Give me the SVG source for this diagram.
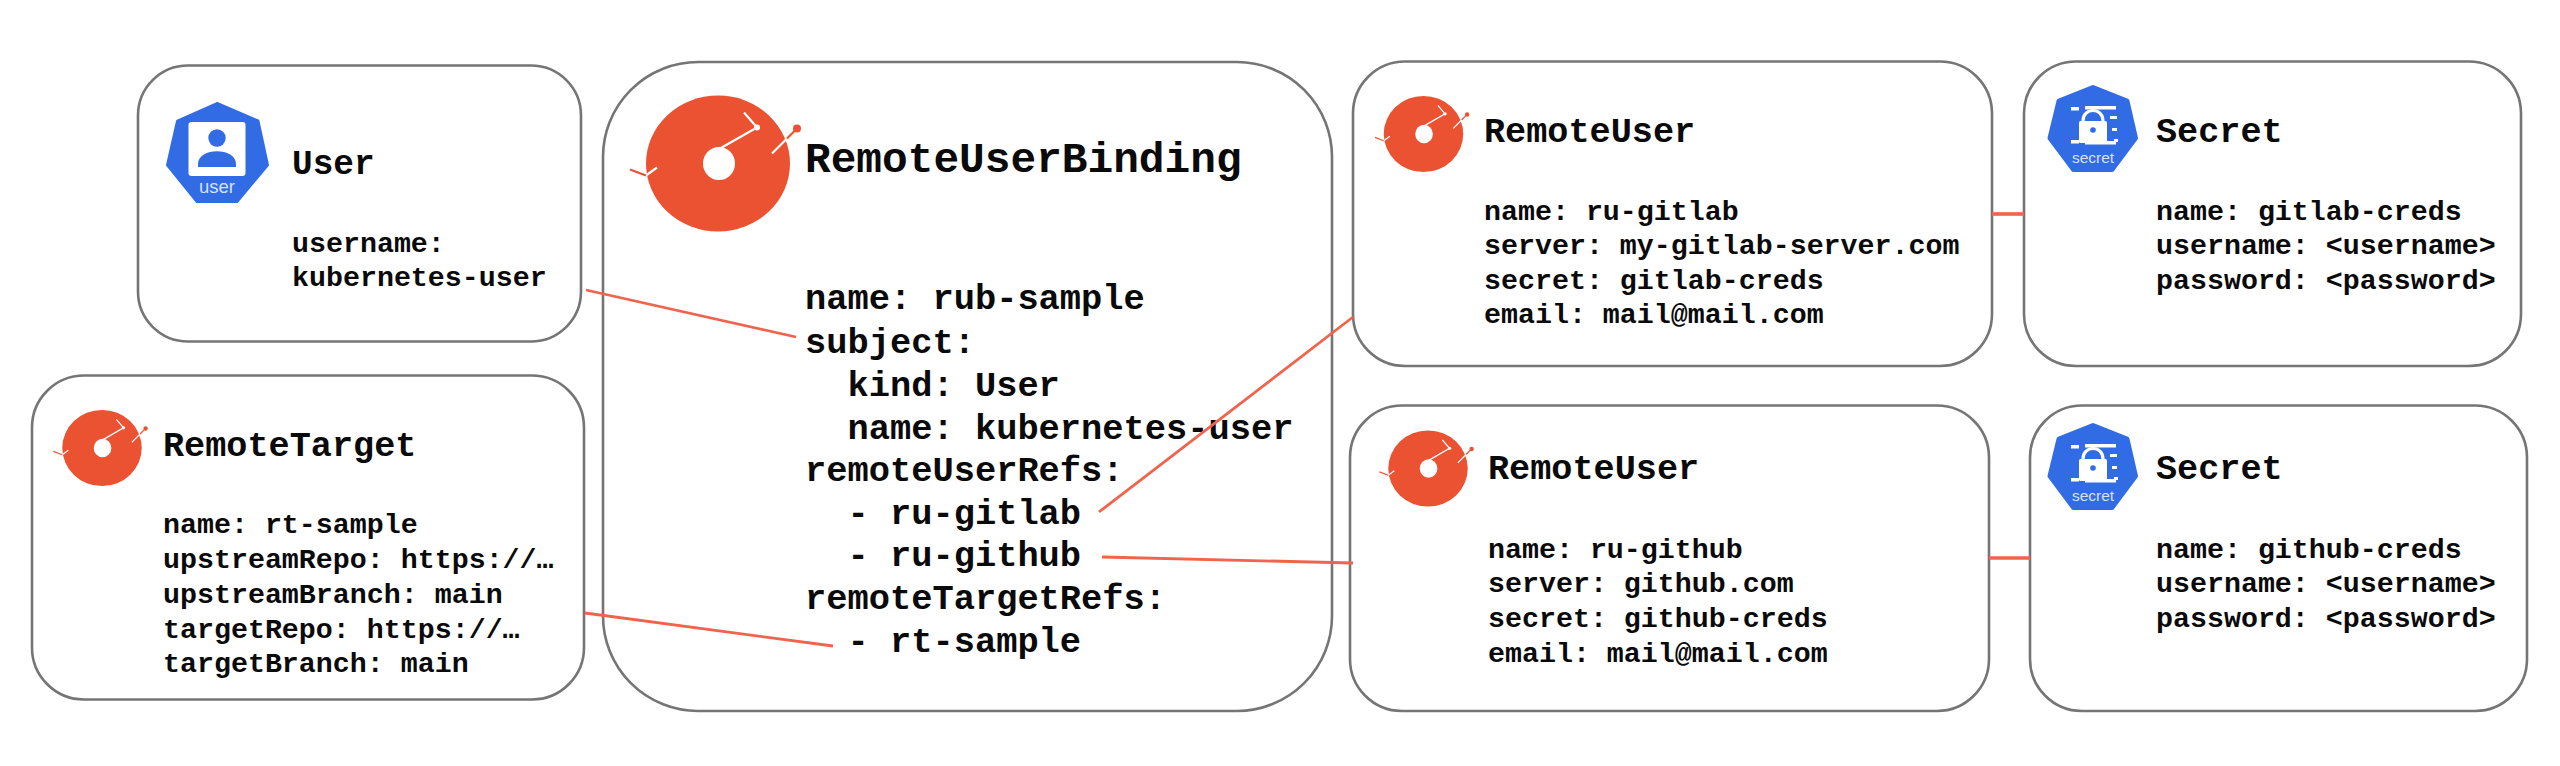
<svg xmlns="http://www.w3.org/2000/svg" xmlns:xlink="http://www.w3.org/1999/xlink" width="2560" height="766" viewBox="0 0 2560 766">
<style>
.box{fill:#fff;stroke:#757575;stroke-width:2.6}
.t{font-family:"Liberation Mono",monospace;font-weight:700;fill:#0a0a0a;white-space:pre}
.h{font-size:35.200px}
.b{font-size:28.3px}
.xl{font-size:42.800px}
.l{font-size:35.4px}
.lab{font-family:"Liberation Sans",Arial,sans-serif;fill:#d5e1fa;text-anchor:middle}
.c{stroke:#f0634c;stroke-width:2.8;fill:none}
.c2{stroke:#f0634c;stroke-width:3.6;fill:none}
</style>
<defs>
<g id="logo">
<ellipse cx="0" cy="0" rx="72" ry="68" fill="#ea5231"/>
<ellipse cx="1" cy="0" rx="16" ry="16.5" fill="#fff"/>
<path d="M2,-15 L39,-36 L26,-51" fill="none" stroke="#fff" stroke-width="2.2"/>
<circle cx="39" cy="-36" r="3" fill="#fff"/>
<path d="M54,-10 L69,-25" fill="none" stroke="#fff" stroke-width="2.2"/>
<path d="M69,-25 L79,-35" fill="none" stroke="#ea5231" stroke-width="2.2"/>
<circle cx="79" cy="-35" r="4" fill="#ea5231"/>
<path d="M-61,4 L-72,12" fill="none" stroke="#fff" stroke-width="2.2"/>
<path d="M-72,12 L-88,6" fill="none" stroke="#ea5231" stroke-width="2.2"/>
</g>
<g id="secret-icon">
<path d="M2093,87.500 L2127,101 L2135.500,138 L2112,169.500 L2073.500,169.500 L2050,138 L2059,101 Z" fill="#326ce5" stroke="#326ce5" stroke-width="5" stroke-linejoin="round"/>
<g fill="#fff">
<rect x="2071" y="107" width="8" height="3.500"/>
<rect x="2085" y="106" width="31" height="3.500"/>
<rect x="2110" y="116" width="7" height="3"/>
<rect x="2112" y="128" width="5" height="3"/>
<rect x="2114" y="139" width="4" height="3"/>
<rect x="2071" y="140" width="8" height="3.500"/>
<rect x="2085" y="141" width="31" height="3.500"/>
<rect x="2079" y="121" width="28" height="22" rx="1.500"/>
</g>
<path d="M2083,121 C2083,107 2103,107 2103,121" fill="none" stroke="#fff" stroke-width="3.200"/>
<circle cx="2093" cy="130" r="2.800" fill="#326ce5"/>
</g>
</defs>
<rect width="2560" height="766" fill="#fff"/>

<g id="node-user">
<rect class="box" x="138" y="65.500" width="443" height="276" rx="50"/>
<path d="M217,103.500 L258,121 L267.500,165 L237,201.500 L197,201.500 L167.500,165 L177.500,121 Z" fill="#326ce5" stroke="#326ce5" stroke-width="3" stroke-linejoin="round"/>
<rect x="188.500" y="122" width="57" height="54" rx="3" fill="#fff"/>
<circle cx="217" cy="138" r="8.700" fill="#326ce5"/>
<path d="M198,167 L198,164 C198,147 236,147 236,164 L236,167 Z" fill="#326ce5"/>
<text class="lab" x="217" y="193" font-size="18.500">user</text>
<text class="t h" x="292" y="174" style="font-size:34.4px">User</text>
<text class="t b" x="292" y="252">username:</text>
<text class="t b" x="292" y="286">kubernetes-user</text>
</g>

<g id="node-remotetarget">
<rect class="box" x="32" y="375.500" width="552" height="324" rx="52"/>
<use href="#logo" xlink:href="#logo" transform="translate(102 448) scale(.552 .56)"/>
<text class="t h" x="163" y="456">RemoteTarget</text>
<text class="t b" x="163" y="533">name: rt-sample</text>
<text class="t b" x="163" y="568">upstreamRepo: https://…</text>
<text class="t b" x="163" y="603">upstreamBranch: main</text>
<text class="t b" x="163" y="638">targetRepo: https://…</text>
<text class="t b" x="163" y="672">targetBranch: main</text>
</g>

<g id="node-remoteuserbinding">
<rect class="box" x="603" y="62" width="729" height="649" rx="95"/>
<use href="#logo" xlink:href="#logo" transform="translate(718 163.500)"/>
<text class="t xl" x="805" y="172">RemoteUserBinding</text>
<text class="t l" x="805" y="309">name: rub-sample</text>
<text class="t l" x="805" y="353">subject:</text>
<text class="t l" x="805" y="396">  kind: User</text>
<text class="t l" x="805" y="439">  name: kubernetes-user</text>
<text class="t l" x="805" y="481">remoteUserRefs:</text>
<text class="t l" x="805" y="524">  - ru-gitlab</text>
<text class="t l" x="805" y="566">  - ru-github</text>
<text class="t l" x="805" y="609">remoteTargetRefs:</text>
<text class="t l" x="805" y="652">  - rt-sample</text>
</g>

<g id="node-remoteuser-gitlab">
<rect class="box" x="1353" y="61.500" width="639" height="304.500" rx="52"/>
<use href="#logo" xlink:href="#logo" transform="translate(1423.500 134) scale(.552 .56)"/>
<text class="t h" x="1484" y="142">RemoteUser</text>
<text class="t b" x="1484" y="220">name: ru-gitlab</text>
<text class="t b" x="1484" y="254">server: my-gitlab-server.com</text>
<text class="t b" x="1484" y="289">secret: gitlab-creds</text>
<text class="t b" x="1484" y="323">email: mail@mail.com</text>
</g>

<g id="node-secret-gitlab">
<rect class="box" x="2024" y="61.500" width="497" height="304.500" rx="52"/>
<use href="#secret-icon" xlink:href="#secret-icon"/>
<text class="lab" x="2093" y="163" font-size="15.500">secret</text>
<text class="t h" x="2156" y="142">Secret</text>
<text class="t b" x="2156" y="220">name: gitlab-creds</text>
<text class="t b" x="2156" y="254">username: &lt;username&gt;</text>
<text class="t b" x="2156" y="289">password: &lt;password&gt;</text>
</g>

<g id="node-remoteuser-github">
<rect class="box" x="1350" y="405.500" width="639" height="305.500" rx="52"/>
<use href="#logo" xlink:href="#logo" transform="translate(1428 468.500) scale(.552 .56)"/>
<text class="t h" x="1488" y="479">RemoteUser</text>
<text class="t b" x="1488" y="558">name: ru-github</text>
<text class="t b" x="1488" y="592">server: github.com</text>
<text class="t b" x="1488" y="627">secret: github-creds</text>
<text class="t b" x="1488" y="662">email: mail@mail.com</text>
</g>

<g id="node-secret-github">
<rect class="box" x="2030" y="405.500" width="497" height="305.500" rx="52"/>
<use href="#secret-icon" xlink:href="#secret-icon" transform="translate(0 338)"/>
<text class="lab" x="2093" y="501" font-size="15.500">secret</text>
<text class="t h" x="2156" y="479">Secret</text>
<text class="t b" x="2156" y="558">name: github-creds</text>
<text class="t b" x="2156" y="592">username: &lt;username&gt;</text>
<text class="t b" x="2156" y="627">password: &lt;password&gt;</text>
</g>

<g id="connectors">
<line class="c" x1="586" y1="290" x2="796" y2="337"/>
<line class="c" x1="585" y1="613" x2="833" y2="646"/>
<line class="c" x1="1099" y1="512" x2="1353" y2="317"/>
<line class="c" x1="1102" y1="557" x2="1353" y2="563"/>
<line class="c2" x1="1992" y1="214" x2="2024" y2="214"/>
<line class="c2" x1="1989" y1="558" x2="2030" y2="558"/>
</g>
</svg>
